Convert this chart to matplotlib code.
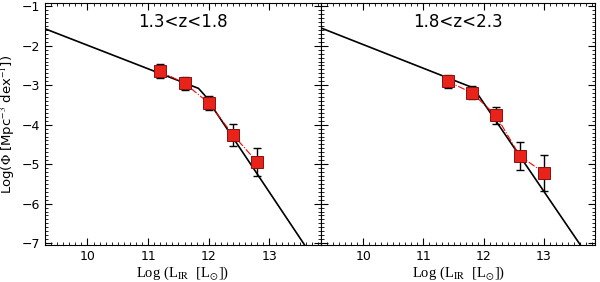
import numpy as np
import matplotlib
matplotlib.use("Agg")
import matplotlib.pyplot as plt
from matplotlib.ticker import MultipleLocator

plt.rcParams['mathtext.fontset'] = 'stix'

# redshift bins
titles = ["1.3<z<1.8", "1.8<z<2.3"]

# measured LF points
lir_1 = [11.2, 11.6, 12.0, 12.4, 12.8]
phi_1 = [-2.65, -2.95, -3.45, -4.26, -4.95]
err_1 = [0.18, 0.17, 0.18, 0.28, 0.35]

lir_2 = [11.4, 11.8, 12.2, 12.6, 13.0]
phi_2 = [-2.90, -3.19, -3.76, -4.79, -5.22]
err_2 = [0.17, 0.17, 0.22, 0.35, 0.45]

# fitted model (broken power law nodes)
fit_x_1 = [9.3, 11.83, 11.93, 13.85]
fit_y_1 = [-1.57, -3.08, -3.25, -7.67]
fit_x_2 = [9.3, 11.83, 13.85]
fit_y_2 = [-1.55, -3.07, -7.60]

fig = plt.figure(figsize=(6.0, 2.82), dpi=100)
ax1 = fig.add_axes([0.075, 0.131, 0.46, 0.858])
ax2 = fig.add_axes([0.535, 0.131, 0.457, 0.858])

panels = [(ax1, lir_1, phi_1, err_1, fit_x_1, fit_y_1, titles[0]),
          (ax2, lir_2, phi_2, err_2, fit_x_2, fit_y_2, titles[1])]

for ax, x, y, e, fx, fy, t in panels:
    ax.plot(fx, fy, color='black', lw=1.2, zorder=2)
    ax.plot(x, y, color='red', lw=0.8, ls='-.', zorder=3)
    ax.errorbar(x, y, yerr=e, fmt='none', ecolor='black', elinewidth=1.0,
                capsize=3, capthick=1.0, zorder=4)
    ax.plot(x, y, 's', color='#e8231a', mec='#8b1010', mew=0.7, ms=8, zorder=5)
    ax.set_xlim(9.3, 13.85)
    ax.set_ylim(-7.05, -0.92)
    ax.xaxis.set_major_locator(MultipleLocator(1))
    ax.xaxis.set_minor_locator(MultipleLocator(0.1))
    ax.yaxis.set_major_locator(MultipleLocator(1))
    ax.yaxis.set_minor_locator(MultipleLocator(0.1))
    ax.tick_params(which='both', direction='in', top=True, right=True, labelsize=9)
    ax.tick_params(which='major', length=5, width=0.8)
    ax.tick_params(which='minor', length=2.5, width=0.6)
    ax.text(0.5, 0.92, t, transform=ax.transAxes, ha='center', va='center', fontsize=12)
    ax.set_xlabel(r"Log (L$_{\rm IR}$  [L$_{\odot}$])", family='Liberation Serif',
                  fontsize=10.5, labelpad=1)
    for sp in ax.spines.values():
        sp.set_linewidth(0.8)

ax1.set_ylabel(r"Log($\Phi$ [Mpc$^{-3}$ dex$^{-1}$])", fontsize=9.5, labelpad=0)
ax1.yaxis.set_label_coords(-0.1, 0.5)
ax2.tick_params(labelleft=False)

fig.savefig("out.png", dpi=100)
